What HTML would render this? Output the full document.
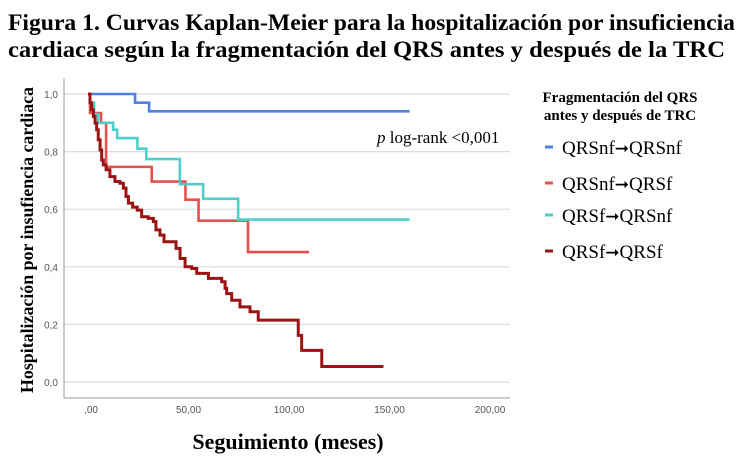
<!DOCTYPE html>
<html><head><meta charset="utf-8"><style>
html,body{margin:0;padding:0;background:#fff;}
svg{display:block;font-family:"Liberation Serif",serif;}
</style></head><body>
<svg id="chart" width="750" height="468" viewBox="0 0 750 468">
<text x="8" y="30" font-size="23" font-weight="bold" textLength="727" lengthAdjust="spacingAndGlyphs">Figura 1. Curvas Kaplan-Meier para la hospitalización por insuficiencia</text>
<text x="8" y="57" font-size="23" font-weight="bold" textLength="717" lengthAdjust="spacingAndGlyphs">cardiaca según la fragmentación del QRS antes y después de la TRC</text>
<g id="grid"></g>
<line x1="64" y1="78" x2="64" y2="398" stroke="#9a9a9a" stroke-width="1"/>
<line x1="64" y1="398" x2="510" y2="398" stroke="#9a9a9a" stroke-width="1"/>
<g id="yticks"></g>
<g id="xticks"></g>
<g id="series"></g>
<text transform="translate(33,240) rotate(-90)" text-anchor="middle" font-size="18" font-weight="bold" textLength="306" lengthAdjust="spacingAndGlyphs">Hospitalización por insufiencia cardiaca</text>
<text x="288" y="449" text-anchor="middle" font-size="22" font-weight="bold">Seguimiento (meses)</text>
<text x="377" y="143" font-size="17"><tspan font-style="italic">p</tspan> log-rank &lt;0,001</text>
<text x="620" y="102" text-anchor="middle" font-size="15" font-weight="bold">Fragmentación del QRS</text>
<text x="620" y="120" text-anchor="middle" font-size="15" font-weight="bold">antes y después de TRC</text>
<g id="legend"></g>
</svg>
<script>
const yTicks=[0,0.2,0.4,0.6,0.8,1.0];
const yTickLabels=["0,0","0,2","0,4","0,6","0,8","1,0"];
const xTicks=[0,50,100,150,200];
const xTickLabels=[",00","50,00","100,00","150,00","200,00"];
const seriesFrom=["QRSnf","QRSnf","QRSf","QRSf"];
const seriesTo=["QRSnf","QRSf","QRSnf","QRSf"];
const seriesColors=["#4f80e0","#e5504e","#4fcfcb","#9b1414"];
const blueTimes=[0,23.4,30.4,160];
const blueSurv=[1.0,0.97,0.94,0.94];
const redTimes=[0,1,6.5,9,31.7,48.5,55,79.6,110];
const redSurv=[1.0,0.934,0.90,0.747,0.696,0.633,0.56,0.451,0.451];
const cyanTimes=[0,1,3,5,12.5,14.5,24.6,29,45.7,57.3,74.7,160];
const cyanSurv=[1.0,0.97,0.93,0.90,0.876,0.847,0.81,0.774,0.687,0.636,0.564,0.564];
const darkTimes=[0,1,1.8,2.7,3.5,4.3,5.1,6,6.8,7.6,9,10.9,13.4,15.9,17.6,18.9,20.1,22.2,24.5,26.7,30,32.5,33.8,35.8,37.8,43.8,45.8,48.3,51.6,54.1,59.9,66.5,68.2,69,71.5,75.6,80.6,84.7,104.6,106.3,116.3,147];
const darkSurv=[1.0,0.969,0.945,0.922,0.899,0.876,0.841,0.806,0.771,0.754,0.737,0.713,0.696,0.69,0.673,0.644,0.621,0.607,0.597,0.574,0.568,0.557,0.528,0.51,0.487,0.464,0.429,0.4,0.394,0.377,0.36,0.348,0.325,0.307,0.284,0.261,0.244,0.215,0.162,0.11,0.054,0.054];

const NS="http://www.w3.org/2000/svg";
const xS=t=>88+t*2.01;
const yS=s=>382-s*288;
function mk(tag,attrs,parent){const e=document.createElementNS(NS,tag);for(const k in attrs)e.setAttribute(k,attrs[k]);parent.appendChild(e);return e;}
const grid=document.getElementById('grid'),yt=document.getElementById('yticks'),xt=document.getElementById('xticks');
yTicks.forEach((v,i)=>{
  const l=mk('line',{x1:64,x2:510,y1:yS(v),y2:yS(v),stroke:'#dcdcdc','stroke-width':1.2},grid);
  
  
  const t=mk('text',{x:58,y:yS(v)+4,'text-anchor':'end','font-size':10,fill:'#555','font-family':'Liberation Sans, sans-serif'},yt);
  t.textContent=yTickLabels[i];
  
  
});
xTicks.forEach((v,i)=>{
  const t=mk('text',{x:xS(v)-(v===0?-3:0),y:413,'text-anchor':'middle','font-size':10,fill:'#555','font-family':'Liberation Sans, sans-serif'},xt);
  t.textContent=xTickLabels[i];
  
  
});
const all=[[blueTimes,blueSurv],[redTimes,redSurv],[cyanTimes,cyanSurv],[darkTimes,darkSurv]];
const sg=document.getElementById('series');
all.forEach(([T,S],k)=>{
  let d='M'+xS(T[0])+','+yS(S[0]);
  for(let i=1;i<T.length;i++){d+=' H'+xS(T[i])+' V'+yS(S[i]);}
  const p=mk('path',{d:d,fill:'none',stroke:seriesColors[k],'stroke-width':k===3?3:2.6,'stroke-linejoin':'miter'},sg);
  
  
});
const lg=document.getElementById('legend');
const rowsY=[152,188,220,256];
seriesFrom.forEach((n,k)=>{
  const m=mk('line',{x1:545,x2:553,y1:rowsY[k]-5,y2:rowsY[k]-5,stroke:seriesColors[k],'stroke-width':3},lg);
  
  
  const t=mk('text',{x:562,y:rowsY[k]+2,'font-size':19},lg);
  
  
  const a=mk('tspan',{},t);a.textContent=n;
  const b=mk('tspan',{'font-family':'DejaVu Sans, sans-serif','font-weight':'bold','font-size':17},t);b.textContent='➞';
  const c=mk('tspan',{},t);c.textContent=seriesTo[k];
});
</script>
</body></html>
